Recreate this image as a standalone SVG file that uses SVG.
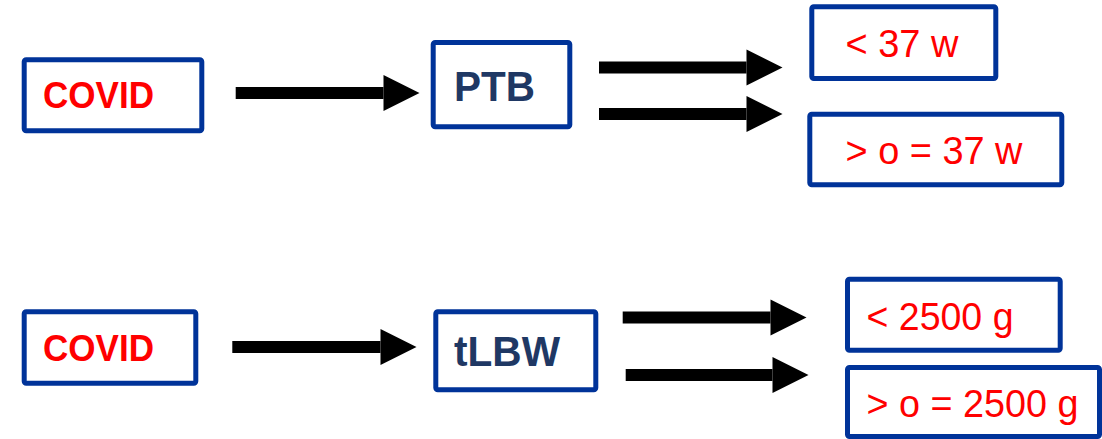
<svg xmlns="http://www.w3.org/2000/svg" width="1102" height="439" viewBox="0 0 1102 439">
  <style>
    .box { fill: #ffffff; stroke: #003399; stroke-width: 5; }
    .cause { font-family: "Liberation Sans", Arial, sans-serif; font-weight: bold; font-size: 37px; fill: #ff0000; }
    .outcome { font-family: "Liberation Sans", Arial, sans-serif; font-weight: bold; font-size: 43px; fill: #1f3864; }
    .range { font-family: "Liberation Sans", Arial, sans-serif; font-size: 39px; fill: #ff0000; }
    .arrow { stroke: #000000; stroke-width: 12; fill: none; marker-end: url(#head); }
  </style>
  <defs>
    <marker id="head" markerUnits="userSpaceOnUse" markerWidth="36" markerHeight="36" refX="0" refY="18" orient="auto" overflow="visible">
      <path d="M0,0 L36,18 L0,36 Z" fill="#000000"/>
    </marker>
  </defs>
  <rect width="1102" height="439" fill="#ffffff"/>

  <!-- Row 1: COVID -> PTB -> gestational age -->
  <g id="covid-ptb">
    <rect class="box" x="24.2" y="59.8" width="177.6" height="71" rx="2"/>
    <text class="cause" x="43" y="108.3" textLength="111" lengthAdjust="spacingAndGlyphs">COVID</text>
  </g>
  <g id="ptb">
    <rect class="box" x="433.2" y="42.5" width="136.6" height="84.3" rx="2"/>
    <text class="outcome" x="454" y="101" textLength="81" lengthAdjust="spacingAndGlyphs">PTB</text>
  </g>
  <g id="lt-37w">
    <rect class="box" x="811.8" y="6.8" width="184" height="71.7" rx="2"/>
    <text class="range" x="845.5" y="57.3" textLength="113" lengthAdjust="spacingAndGlyphs">&lt; 37 w</text>
  </g>
  <g id="ge-37w">
    <rect class="box" x="809.8" y="114.2" width="252" height="70.6" rx="2"/>
    <text class="range" x="845.5" y="164.3" textLength="177" lengthAdjust="spacingAndGlyphs">&gt; o = 37 w</text>
  </g>

  <!-- Row 2: COVID -> tLBW -> birth weight -->
  <g id="covid-tlbw">
    <rect class="box" x="24.2" y="311.8" width="171.6" height="71.4" rx="2"/>
    <text class="cause" x="43" y="360.7" textLength="111" lengthAdjust="spacingAndGlyphs">COVID</text>
  </g>
  <g id="tlbw">
    <rect class="box" x="435.8" y="311.8" width="160" height="78" rx="2"/>
    <text class="outcome" x="454" y="366" textLength="106" lengthAdjust="spacingAndGlyphs">tLBW</text>
  </g>
  <g id="lt-2500g">
    <rect class="box" x="847.5" y="279.2" width="212.7" height="71" rx="2"/>
    <text class="range" x="866.5" y="330" textLength="147" lengthAdjust="spacingAndGlyphs">&lt; 2500 g</text>
  </g>
  <g id="ge-2500g">
    <rect class="box" x="847.5" y="367.5" width="252" height="69" rx="2"/>
    <text class="range" x="866.5" y="416.7" textLength="212" lengthAdjust="spacingAndGlyphs">&gt; o = 2500 g</text>
  </g>

  <!-- Connectors -->
  <g id="connectors">
    <line class="arrow" x1="235.7" y1="93" x2="383.5" y2="93"/>
    <line class="arrow" x1="599" y1="67.5" x2="746.5" y2="67.5"/>
    <line class="arrow" x1="599" y1="114" x2="746.5" y2="114"/>
    <line class="arrow" x1="232.3" y1="347" x2="380.5" y2="347"/>
    <line class="arrow" x1="622.7" y1="317.5" x2="770.5" y2="317.5"/>
    <line class="arrow" x1="625.7" y1="375" x2="772.5" y2="375"/>
  </g>
</svg>
